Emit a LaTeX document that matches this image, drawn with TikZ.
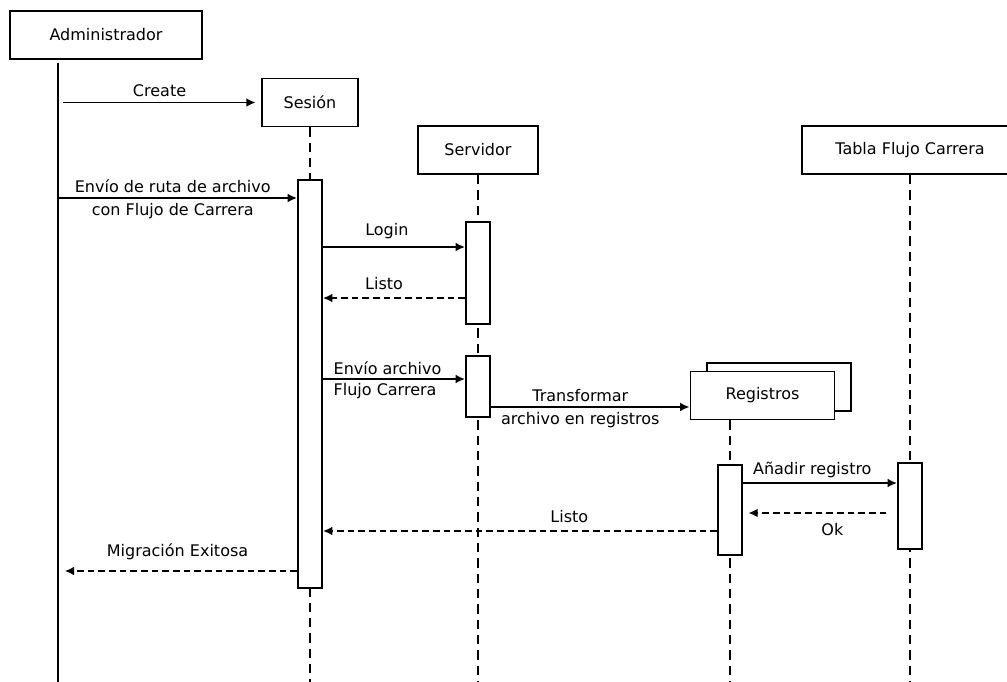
\documentclass[tikz,border=0pt]{standalone}
\usepackage{fontspec}
\setmainfont{DejaVu Sans}
\usetikzlibrary{arrows.meta}
\tikzset{
	objbox/.style={draw, line width=1.4pt, fill=white, inner sep=0pt, minimum height=36pt},
	actbox/.style={draw, line width=1.4pt, fill=white, inner sep=0pt, minimum width=18pt},
	lifeline/.style={line width=1.4pt, dash pattern=on 7pt off 4.5pt},
	call/.style={-{Latex[length=7pt, width=6.5pt]}, line width=1.4pt},
	reply/.style={-{Latex[length=7pt, width=6.5pt]}, line width=1.4pt, dash pattern=on 5pt off 3pt},
}

\begin{document}
\begin{tikzpicture}[x=0.75pt, y=-0.75pt, font=\fontsize{12pt}{17pt}\selectfont]
			\useasboundingbox (0,0) rectangle (1007,682);
			\clip (0,0) rectangle (1007,682);
			\node[objbox, minimum width=144pt] (adm) at (106,35) {Administrador};
			\node[objbox, minimum width=72pt] (ses) at (310,102.5) {Sesión};
			\node[objbox, minimum width=90pt] (srv) at (478,150) {Servidor};
			\node[objbox, minimum width=162pt] (tab) at (910,150) {Tabla Flujo Carrera};
			\node[objbox, minimum width=108pt] (regback) at (779,387) {};
			\node[objbox, minimum width=108pt] (reg) at (762.5,395.5) {Registros};
			\coordinate (admL) at (58,0);
			\coordinate (regL) at (730,0);
			\coordinate (bot) at (0,682);
			\draw[line width=1.4pt] ([yshift=-2pt]adm.south -| admL) -- (admL |- bot);
			\draw[lifeline] (ses.south) -- (ses |- bot);
			\draw[lifeline] (srv.south) -- (srv |- bot);
			\draw[lifeline] (reg.south -| regL) -- (regL |- bot);
			\draw[lifeline] (tab.south) -- (tab |- bot);
			\node[actbox, minimum height=306pt] (sact) at (310,384) {};
			\node[actbox, minimum height=76.5pt] (vact1) at (478,273) {};
			\node[actbox, minimum height=45.75pt] (vact2) at (478,386.5) {};
			\node[actbox, minimum height=67.5pt] (ract) at (730,510) {};
			\node[actbox, minimum height=64.5pt] (tact) at (910,506) {};
			\coordinate (m2) at (0,198);
			\coordinate (m3) at (0,247);
			\coordinate (m4) at (0,298);
			\coordinate (m5) at (0,379);
			\coordinate (m6) at (0,407);
			\coordinate (m7) at (0,483);
			\coordinate (m8) at (0,513);
			\coordinate (m9) at (0,531);
			\coordinate (m10) at (0,571);
			\draw[call, shorten <=3.75pt, shorten >=4pt] (admL |- ses) -- (ses.west) node[pos=0.5, above] {Create};
			\draw[call] (admL |- m2) -- (sact.west |- m2) node[pos=0.48, above] {Envío de ruta de archivo} node[pos=0.48, below] {con Flujo de Carrera};
			\draw[call] (sact.east |- m3) -- (vact1.west |- m3) node[pos=0.45, above=2pt] {Login};
			\draw[reply] (vact1.west |- m4) -- (sact.east |- m4) node[pos=0.57, above=2pt] {Listo};
			\draw[call] (sact.east |- m5) -- (vact2.west |- m5) node[pos=0, anchor=west, align=left, xshift=4pt, yshift=-1pt] {Envío archivo\\[-1.5pt]Flujo Carrera};
			\draw[call] (vact2.east |- m6) -- (reg.west |- m6) node[pos=0.45, above] {Transformar} node[pos=0.45, below] {archivo en registros};
			\draw[call] (ract.east |- m7) -- (tact.west |- m7) node[pos=0.45, above] {Añadir registro};
			\draw[reply, shorten <=8pt, shorten >=4pt] (tact.west |- m8) -- (ract.east |- m8) node[pos=0.42, below=4pt] {Ok};
			\draw[reply] (ract.west |- m9) -- (sact.east |- m9) node[pos=0.375, above=2pt] {Listo};
			\draw[reply, shorten >=5pt] (sact.west |- m10) -- (admL |- m10) node[pos=0.5, above=4pt] {Migración Exitosa};
		\end{tikzpicture}
\end{document}
